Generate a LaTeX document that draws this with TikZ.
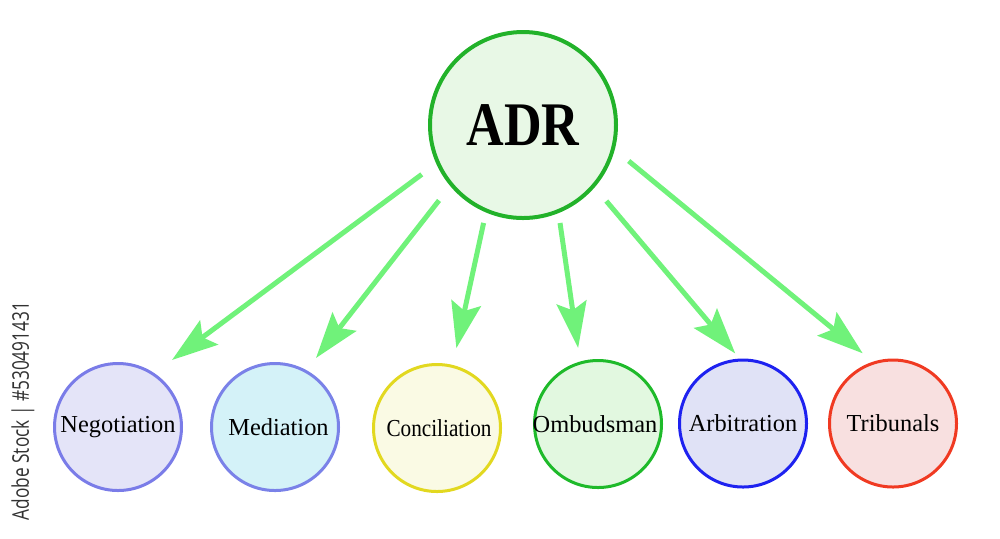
\documentclass[tikz,border=0pt]{standalone}
\usepackage{fontspec}
\setmainfont{Liberation Serif}
\newfontfamily\wmfont{Open Sans}
\usetikzlibrary{arrows.meta}
\definecolor{arrgreen}{RGB}{112,242,122}
\definecolor{adrline}{RGB}{34,178,42}
\definecolor{adrfill}{RGB}{232,248,230}
\definecolor{negline}{RGB}{122,124,232}
\definecolor{negfill}{RGB}{228,228,248}
\definecolor{medline}{RGB}{122,130,232}
\definecolor{medfill}{RGB}{212,242,248}
\definecolor{conline}{RGB}{226,216,32}
\definecolor{confill}{RGB}{250,250,228}
\definecolor{ombline}{RGB}{30,186,42}
\definecolor{ombfill}{RGB}{226,248,224}
\definecolor{arbline}{RGB}{30,34,240}
\definecolor{arbfill}{RGB}{224,226,246}
\definecolor{triline}{RGB}{240,58,34}
\definecolor{trifill}{RGB}{248,224,224}
\definecolor{wmgray}{RGB}{50,50,50}
\newcommand{\lbl}[2][0pt]{\makebox[0pt][c]{\kern#1#2}}
\tikzset{
  bigcirc/.style={circle, draw=adrline, fill=adrfill, line width=2pt, minimum size=93pt, inner sep=0pt},
  smallcirc/.style={circle, line width=1.5pt, minimum size=63.5pt, inner sep=0pt, font=\fontsize{12.2}{12.2}\selectfont},
  arr/.style={draw=arrgreen, line width=2.5pt, -{Stealth[length=23pt, width=15pt, inset=4pt]}}
}
\begin{document}
\begin{tikzpicture}[x=0.5pt, y=-0.5pt]
\useasboundingbox (0,0) rectangle (1000,538);
\node[bigcirc] (adr) at (523,125) {\bfseries\fontsize{31}{31}\selectfont\scalebox{0.84}[1]{ADR}};
\node[smallcirc, draw=negline, fill=negfill] (neg) at (118,427) {\lbl{Negotiation}};
\node[smallcirc, draw=medline, fill=medfill] (med) at (275,427) {\lbl[3.5pt]{Mediation}};
\node[smallcirc, draw=conline, fill=confill] (con) at (437,428) {\lbl[2pt]{\scalebox{0.87}[1]{Conciliation}}};
\node[smallcirc, draw=ombline, fill=ombfill] (omb) at (598,424) {\lbl[-3pt]{Ombudsman}};
\node[smallcirc, draw=arbline, fill=arbfill] (arb) at (743,423.5) {\lbl{Arbitration}};
\node[smallcirc, draw=triline, fill=trifill] (tri) at (893,423.5) {\lbl{Tribunals}};
\draw[arr, shorten <=9pt, shorten >=11pt] (adr.204.7) -- (neg.56.1);
\draw[arr, shorten <=9.1pt, shorten >=7.7pt] (adr.220.2) -- (med.61.0);
\draw[arr, shorten <=5.35pt, shorten >=8.6pt] (adr.247.0) -- (con.76.4);
\draw[arr, shorten <=5pt, shorten >=6.85pt] (adr.292.3) -- (omb.106.2);
\draw[arr, shorten <=9pt, shorten >=3.35pt] (adr.319.4) -- (arb.93.3);
\draw[arr, shorten <=9pt, shorten >=6.6pt] (adr.345.5) -- (tri.108.7);
\node[rotate=90, text=wmgray, inner sep=0pt] (wm) at (23,411) {\wmfont\fontsize{11.5}{11.5}\selectfont\scalebox{0.75}[1]{Adobe Stock | \#530491431}};
\end{tikzpicture}
\end{document}
